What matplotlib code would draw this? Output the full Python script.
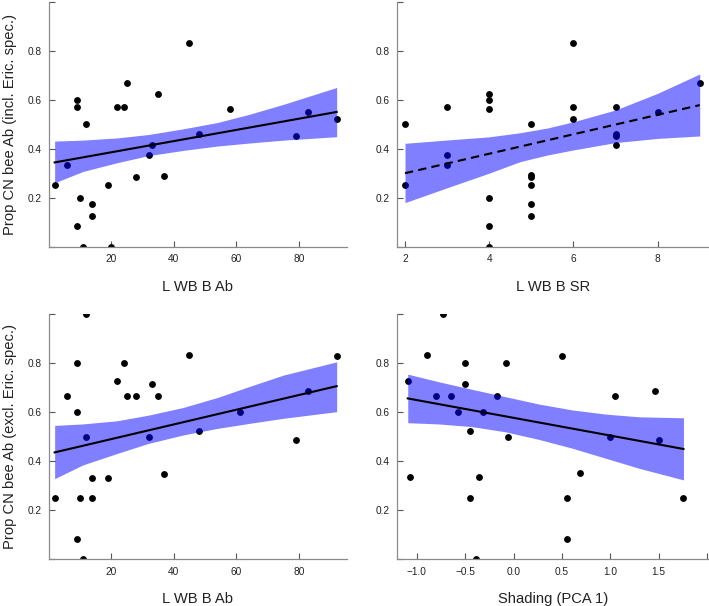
import matplotlib
matplotlib.use("Agg")
import matplotlib.pyplot as plt
import numpy as np

plt.rcParams['font.family'] = ['Liberation Sans', 'DejaVu Sans']

# ---- data ----
# proportion of CN bee abundance, incl. Ericaceae specialists (top row)
ab_incl = [2, 6, 9, 9, 9, 10, 11, 12, 14, 14, 19, 20, 22, 24, 25, 28,
           32, 33, 35, 37, 45, 48, 58, 79, 83, 92]
prop_incl = [0.25, 0.333, 0.6, 0.571, 0.083, 0.2, 0.0, 0.5, 0.176, 0.125,
             0.25, 0.0, 0.571, 0.571, 0.667, 0.286, 0.375, 0.417, 0.625,
             0.29, 0.833, 0.458, 0.563, 0.452, 0.55, 0.522]

sr_incl = [2, 2, 3, 3, 3, 4, 4, 4, 4, 4, 4, 5, 5, 5, 5, 5, 5,
           6, 6, 6, 7, 7, 7, 7, 8, 9]
prop_sr = [0.5, 0.25, 0.571, 0.375, 0.333, 0.625, 0.6, 0.563, 0.2, 0.083,
           0.0, 0.5, 0.292, 0.286, 0.25, 0.176, 0.125, 0.833, 0.571, 0.522,
           0.571, 0.458, 0.452, 0.417, 0.55, 0.667]

# proportion excl. Ericaceae specialists (bottom row)
ab_excl = [2, 6, 9, 9, 9, 10, 11, 12, 12, 14, 14, 19, 22, 24, 25, 28,
           32, 33, 35, 37, 45, 48, 61, 79, 83, 92]
prop_excl = [0.25, 0.667, 0.8, 0.6, 0.083, 0.25, 0.0, 1.0, 0.5, 0.333,
             0.25, 0.333, 0.727, 0.8, 0.667, 0.667, 0.5, 0.714, 0.667,
             0.35, 0.833, 0.525, 0.6, 0.485, 0.687, 0.828]

shading = [-1.093, -1.069, -0.896, -0.796, -0.73, -0.647, -0.578, -0.499,
           -0.499, -0.454, -0.454, -0.385, -0.353, -0.315, -0.167, -0.08,
           -0.053, 0.497, 0.553, 0.553, 0.691, 0.995, 1.047, 1.465, 1.5, 1.756]
prop_shade = [0.728, 0.334, 0.834, 0.667, 1.0, 0.667, 0.6, 0.8, 0.716,
              0.524, 0.25, 0.0, 0.334, 0.6, 0.667, 0.8, 0.5, 0.828, 0.25,
              0.083, 0.351, 0.5, 0.667, 0.687, 0.485, 0.25]

# fitted lines (end points) and confidence bands
fit1_x = [2, 92]
fit1_y = [0.344, 0.550]
band1_x = [2, 11, 22, 32, 43, 54, 64, 75, 92]
band1_lo = [0.261, 0.307, 0.343, 0.372, 0.393, 0.411, 0.423, 0.435, 0.449]
band1_hi = [0.431, 0.435, 0.444, 0.458, 0.481, 0.507, 0.540, 0.581, 0.650]

fit2_x = [2, 9]
fit2_y = [0.300, 0.578]
band2_x = [2, 3.19, 3.98, 4.73, 5.4, 6.0, 7.0, 8.0, 9.0]
band2_lo = [0.180, 0.252, 0.299, 0.347, 0.375, 0.395, 0.425, 0.442, 0.452]
band2_hi = [0.422, 0.438, 0.448, 0.465, 0.485, 0.510, 0.558, 0.626, 0.705]

fit3_x = [2, 92]
fit3_y = [0.436, 0.706]
band3_x = [2, 11, 22, 32, 43, 54, 64, 75, 92]
band3_lo = [0.329, 0.385, 0.432, 0.473, 0.507, 0.534, 0.554, 0.575, 0.602]
band3_hi = [0.546, 0.552, 0.565, 0.588, 0.619, 0.660, 0.704, 0.751, 0.805]

fit4_x = [-1.093, 1.756]
fit4_y = [0.656, 0.450]
band4_x = [-1.093, -0.775, -0.429, -0.084, 0.262, 0.608, 0.954, 1.30, 1.756]
band4_lo = [0.557, 0.552, 0.541, 0.520, 0.489, 0.453, 0.412, 0.371, 0.324]
band4_hi = [0.755, 0.724, 0.693, 0.663, 0.633, 0.609, 0.592, 0.581, 0.577]

ylab_incl = "Prop CN bee Ab (incl. Eric. spec.)"
ylab_excl = "Prop CN bee Ab (excl. Eric. spec.)"

fig = plt.figure(figsize=(7.09, 6.06), dpi=100)

W, H = 709, 606


def make_ax(left_px, right_px, top_px, bottom_px):
    return fig.add_axes([left_px / W, 1 - bottom_px / H,
                         (right_px - left_px) / W, (bottom_px - top_px) / H])


def style(ax, xlim, xticks, xticklabels, xlabel, ylabel=None):
    ax.set_xlim(*xlim)
    ax.set_ylim(0, 1)
    for s in ["top", "right"]:
        ax.spines[s].set_visible(False)
    for s in ["left", "bottom"]:
        ax.spines[s].set_color("#8a8a8a")
        ax.spines[s].set_linewidth(0.9)
    ax.set_yticks([0, 0.2, 0.4, 0.6, 0.8, 1.0])
    ax.set_yticklabels(["", "0.2", "0.4", "0.6", "0.8", ""])
    ax.set_xticks(xticks)
    ax.set_xticklabels(xticklabels)
    ax.tick_params(direction="in", length=4.5, width=0.8, color="#555555",
                   labelsize=7.3, labelcolor="#222222", pad=5.5)
    ax.set_xlabel(xlabel, fontsize=10.6, color="#222222", labelpad=11)
    if ylabel:
        ax.set_ylabel(ylabel, fontsize=10.6, color="#222222", labelpad=7.5)


def panel(ax, x, y, fx, fy, bx, blo, bhi, ls="-"):
    # points first, then the translucent band over them, then the fit line
    ax.plot(x, y, "o", color="black", markersize=3.9, zorder=2)
    ax.fill_between(bx, blo, bhi, color=(0, 0, 1), alpha=0.5, lw=0, zorder=3)
    ax.plot(fx, fy, color="black", lw=1.5, ls=ls, zorder=4)


ax1 = make_ax(49, 346.7, 1.7, 246.7)
panel(ax1, ab_incl, prop_incl, fit1_x, fit1_y, band1_x, band1_lo, band1_hi)
style(ax1, (0.2, 95.2), [20, 40, 60, 80], ["20", "40", "60", "80"],
      "L WB B Ab", ylab_incl)

ax2 = make_ax(397.3, 709, 1.7, 246.7)
panel(ax2, sr_incl, prop_sr, fit2_x, fit2_y, band2_x, band2_lo, band2_hi,
      ls=(0, (4, 2.5)))
style(ax2, (1.817, 9.22), [2, 4, 6, 8], ["2", "4", "6", "8"], "L WB B SR")

ax3 = make_ax(49, 346.7, 314, 559.4)
panel(ax3, ab_excl, prop_excl, fit3_x, fit3_y, band3_x, band3_lo, band3_hi)
style(ax3, (0.2, 95.2), [20, 40, 60, 80], ["20", "40", "60", "80"],
      "L WB B Ab", ylab_excl)

ax4 = make_ax(397.3, 709, 314, 559.4)
panel(ax4, shading, prop_shade, fit4_x, fit4_y, band4_x, band4_lo, band4_hi)
style(ax4, (-1.201, 2.02), [-1.0, -0.5, 0.0, 0.5, 1.0, 1.5, 2.0],
      ["\u22121.0", "\u22120.5", "0.0", "0.5", "1.0", "1.5", ""],
      "Shading (PCA 1)")

fig.savefig("out.png", dpi=100)
